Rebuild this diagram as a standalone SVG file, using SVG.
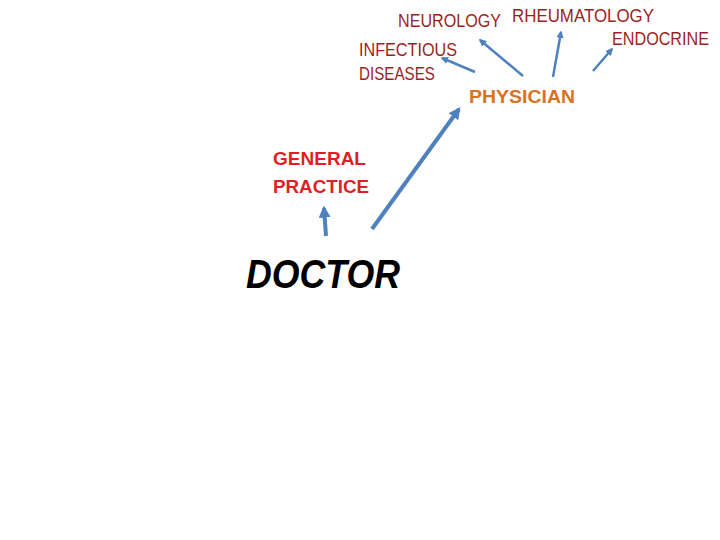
<svg xmlns="http://www.w3.org/2000/svg" width="720" height="540" viewBox="0 0 720 540">
<style>
text{font-family:"Liberation Sans","DejaVu Sans",sans-serif}
.spec{fill:#9c1f23;font-size:18px}
.phys{fill:#d9731f;font-size:19px;font-weight:bold}
.gp{fill:#e01f25;font-size:19px;font-weight:bold}
.doc{fill:#000;font-size:40px;font-weight:bold;font-style:italic}
.c{stroke:#4f81bd;fill:none;stroke-width:2.5}
.c2{stroke:#4f81bd;fill:none;stroke-width:4}
</style>
<defs>
<marker id="a" viewBox="0 0 10 10" refX="8" refY="5" markerWidth="3" markerHeight="3" orient="auto" markerUnits="strokeWidth"><path d="M0,0L10,5L0,10z" fill="#4f81bd"/></marker>
</defs>
<rect width="720" height="540" fill="#fff"/>
<g id="connectors">
<line class="c" x1="475" y1="72" x2="442" y2="58" marker-end="url(#a)"/>
<line class="c" x1="523" y1="76" x2="480" y2="40" marker-end="url(#a)"/>
<line class="c" x1="553" y1="77" x2="561" y2="32" marker-end="url(#a)"/>
<line class="c" x1="593" y1="71" x2="612" y2="49" marker-end="url(#a)"/>
<line class="c2" x1="372" y1="229" x2="459" y2="109" marker-end="url(#a)"/>
<line class="c2" x1="326" y1="236" x2="324" y2="208" marker-end="url(#a)"/>
</g>
<g id="neurology"><text class="spec" x="398" y="27" textLength="103" lengthAdjust="spacingAndGlyphs">NEUROLOGY</text></g>
<g id="rheumatology"><text class="spec" x="512" y="22" textLength="142" lengthAdjust="spacingAndGlyphs">RHEUMATOLOGY</text></g>
<g id="endocrine"><text class="spec" x="612" y="45" textLength="97" lengthAdjust="spacingAndGlyphs">ENDOCRINE</text></g>
<g id="infectious"><text class="spec" x="359" y="56" textLength="98" lengthAdjust="spacingAndGlyphs">INFECTIOUS</text><text class="spec" x="359" y="80" textLength="76" lengthAdjust="spacingAndGlyphs">DISEASES</text></g>
<g id="physician"><text class="phys" x="469" y="103" textLength="106" lengthAdjust="spacingAndGlyphs">PHYSICIAN</text></g>
<g id="general"><text class="gp" x="273" y="165" textLength="93" lengthAdjust="spacingAndGlyphs">GENERAL</text><text class="gp" x="273" y="193" textLength="96" lengthAdjust="spacingAndGlyphs">PRACTICE</text></g>
<g id="doctor"><text class="doc" x="246" y="288" textLength="154" lengthAdjust="spacingAndGlyphs">DOCTOR</text></g>
</svg>
